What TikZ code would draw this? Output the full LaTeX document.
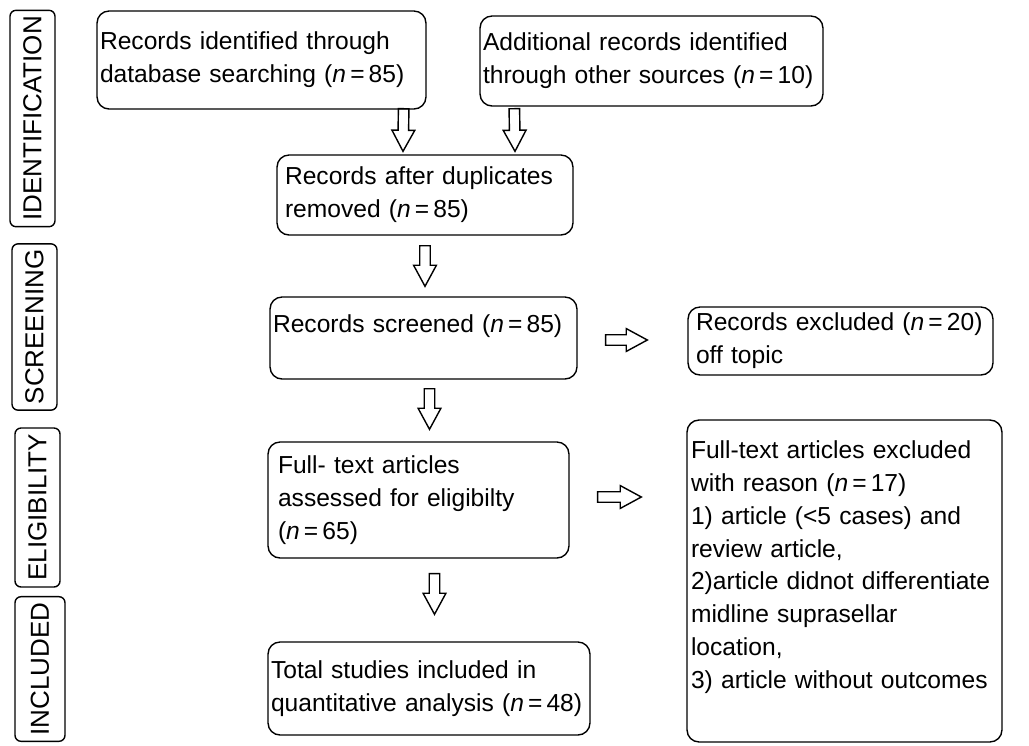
\documentclass[tikz,border=0pt]{standalone}
\usepackage{fontspec}
\setmainfont{Liberation Sans}
\usetikzlibrary{calc}
\begin{document}
\begin{tikzpicture}[
  x=0.02cm, y=-0.02cm,
  box/.style = {shape=rectangle, rounded corners=0.24cm, draw, line width=0.8pt,
    align=left, inner ysep=2pt, font=\fontsize{14}{18.7}\selectfont},
  phase/.style = {shape=rectangle, rounded corners=0.12cm, draw, line width=0.8pt,
    rotate=90, minimum height=0.9cm, font=\fontsize{14.8}{16}\selectfont},
  hollow/.style = {line width=0.8pt, line join=miter, to path={
    let \p1=($(\tikztotarget)-(\tikztostart)$), \n1={veclen(\x1,\y1)},
        \n2={atan2(\y1,\x1)} in
    ($(\tikztostart)+({\n2+90}:3pt)$)
    -- ($(\tikztostart)+(\n2:{\n1-12pt})+({\n2+90}:3pt)$)
    -- ($(\tikztostart)+(\n2:{\n1-12pt})+({\n2+90}:6.5pt)$)
    -- (\tikztotarget)
    -- ($(\tikztostart)+(\n2:{\n1-12pt})+({\n2-90}:6.5pt)$)
    -- ($(\tikztostart)+(\n2:{\n1-12pt})+({\n2-90}:3pt)$)
    -- ($(\tikztostart)+({\n2-90}:3pt)$) -- cycle}}
  ]
  \useasboundingbox (0,0) rectangle (1029,745);

  \node[phase, minimum width=4.26cm] (pident) at (32.5,118.5) {IDENTIFICATION};
  \node[phase, minimum width=3.2cm] (pscreen) at (34.5,327) {SCREENING};
  \node[phase, minimum width=3.18cm] (peligible) at (37.5,507.5) {ELIGIBILITY};
  \node[phase, minimum width=2.64cm, minimum height=1cm] (pincluded) at (40,669) {INCLUDED};

  \node[box, minimum height=1.96cm, text width=6.46cm, inner xsep=0.06cm] (ident) at (261.5,60)
    {Records identified through\\database searching (\textit{n}\,=\,85)};
  \node[box, minimum height=1.8cm, text width=6.74cm, inner xsep=0.06cm] (other) at (651.5,61)
    {Additional records identified\\through other sources (\textit{n}\,=\,10)};
  \node[box, minimum height=1.6cm, text width=5.6cm, inner xsep=0.16cm] (dedup) at (425,195)
    {Records after duplicates\\removed (\textit{n}\,=\,85)};
  \node[box, minimum height=1.64cm, text width=6.02cm, inner xsep=0.06cm, text depth=0.58cm] (screen) at (423.5,338)
    {Records screened (\textit{n}\,=\,85)};
  \node[box, minimum height=1.36cm, text width=5.78cm, inner xsep=0.16cm] (offtopic) at (840.5,341)
    {Records excluded (\textit{n}\,=\,20)\\off topic};
  \node[box, minimum height=2.32cm, text width=5.62cm, inner xsep=0.2cm] (assess) at (418.5,500)
    {Full- text articles\\assessed for eligibilty\\ (\textit{n}\,=\,65)};
  \node[box, minimum height=6.44cm, text width=6.14cm, inner xsep=0.08cm] (reasons) at (844.5,581)
    {Full-text articles excluded\\with reason (\textit{n}\,=\,17)\\1) article (<5 cases) and\\review article,\\2)article didnot differentiate\\midline suprasellar\\location,\\3) article without outcomes\\\mbox{}};
  \node[box, minimum height=1.86cm, text width=6.32cm, inner xsep=0.06cm] (total) at (429,688.5)
    {Total studies included in\\quantitative analysis (\textit{n}\,=\,48)};

  \draw[hollow] ($(ident.south east)+(-23,-1)$) to ($(dedup.north)+(-22,-3)$);
  \draw[hollow] ($(other.south west)+(35,2)$) to ($(dedup.north)+(90,-3)$);
  \draw[hollow] ($(dedup.south)+(0,10)$) to ($(dedup.south |- screen.north)+(0,-10)$);
  \draw[hollow] ($(screen.south)+(6,9)$) to ($(screen.south |- assess.north)+(6,-12)$);
  \draw[hollow] ($(assess.south)+(16,15)$) to ($(assess.south |- total.north)+(16,-27)$);
  \draw[hollow] ($(screen.east)+(28,2)$) to ($(screen.east -| offtopic.west)+(-40,2)$);
  \draw[hollow] ($(assess.east)+(28,-3)$) to ($(assess.east -| reasons.west)+(-45,-3)$);
\end{tikzpicture}
\end{document}
